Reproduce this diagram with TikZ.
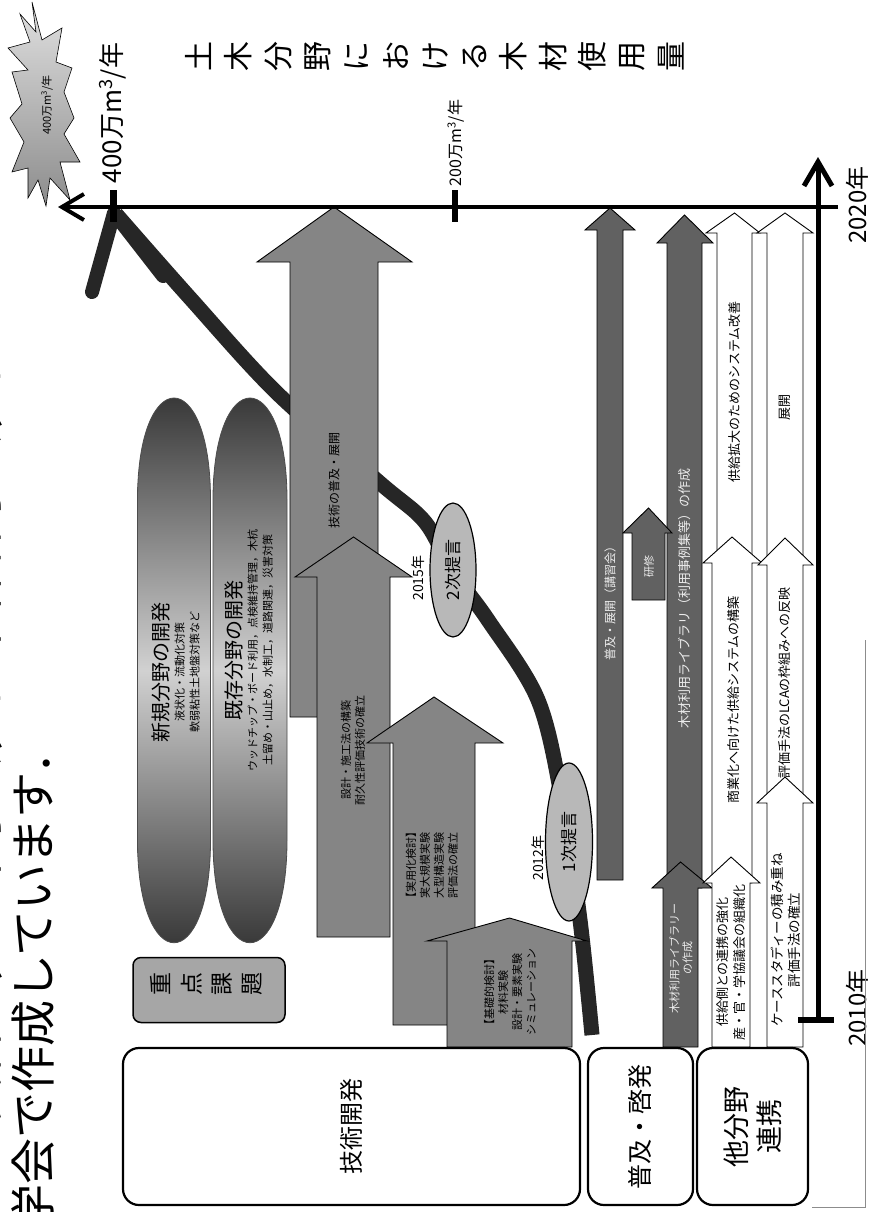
\documentclass[tikz,border=0pt]{standalone}
\usepackage{fontspec}
\setmainfont{Noto Sans CJK JP}
\usetikzlibrary{shapes.geometric,arrows.meta}
\newcommand\blkarrow[8]{%
  \path[#8] (#1,#7) -- (#1,#6) -- (#3,#6) -- ({(#1+#2)/2},#5) -- (#4,#6) -- (#2,#6) -- (#2,#7) -- cycle;}
\newcommand\tallpill[3]{%
  \path[draw=black!70,line width=0.8pt,top color=black!85,bottom color=black!85,middle color=black!18]
    (#1,500) .. controls (#1,364) and (#2,364) .. (#2,500) -- (#2,840)
    .. controls (#2,977) and (#1,977) .. (#1,840) -- cycle;}
\begin{document}
\begin{tikzpicture}[x=1pt,y=-1pt,
  fs/.style args={#1/#2}{font=\fontsize{#1}{#2}\selectfont},
  rt/.style={rotate=90,align=center,inner sep=0pt},
  onechar/.style={rotate=90,inner sep=0pt,text height=0.8em,text depth=0.1em,text width=1em,align=center},
  garrow/.style={fill=black!48,draw=black,line width=0.9pt},
  darrow/.style={fill=black!62,draw=black,line width=0.9pt},
  warrow/.style={fill=white,draw=black,line width=0.9pt},
  rbox/.style={draw=black,line width=2.2pt,rounded corners=16pt,fill=white},
  pill/.style={ellipse,draw=black,line width=1.2pt,fill=black!28,inner sep=0pt}]
\useasboundingbox (0,0) rectangle (868,1212);
\clip (0,0) rectangle (868,1212);
\fill[white] (0,0) rectangle (868,1212);

% cut-off explanatory text at the left edge
\node[rt,fs=46/50,anchor=east] (c1) at (-19,340) {この資料は，土木学会，日本森林学会，日};
\node[rt,fs=46/50,anchor=east] (c2) at (33,728) {本木材学会で作成しています．};

% starburst
\path[draw=black,line width=0.6pt,top color=black!12,bottom color=black!45]
  (32,2) -- (42,40) -- (62,28) -- (56,62) -- (72,68) -- (64,92) -- (74,118) -- (64,134)
  -- (80,162) -- (60,162) -- (70,200) -- (50,178) -- (46,206) -- (38,180) -- (28,198)
  -- (28,168) -- (12,172) -- (24,142) -- (10,118) -- (22,104) -- (12,72) -- (28,70)
  -- (8,48) -- (30,42) -- (20,14) -- (36,32) -- cycle;
\node[rt,fs=11/12] (burst) at (47,105) {400万m\textsuperscript{3}/年};

% title
\foreach \ch [count=\i] in {土,木,分,野,に,お,け,る,木,材,使,用,量}
  \node[onechar,fs=30/30] (t\i) at ({207+39.3*(\i-1)},67) {\ch};

% big curve
\draw[line width=15pt,black!85] plot[smooth,tension=0.55] coordinates
  {(592,1035) (580,920) (562,800) (538,700) (488,620) (453,572) (425,522) (380,483) (277,393) (190,298) (116,214)};
\draw[line width=14pt,black!85,line cap=round,line join=round] (92,292) -- (114,213) -- (163,276);

% technical development arrows
\blkarrow{290}{378}{257}{412}{207}{262}{717}{garrow}
\blkarrow{317}{390}{295}{412}{537}{577}{937}{garrow}
\blkarrow{393}{475}{367}{503}{697}{743}{1025}{garrow}
\blkarrow{447}{572}{427}{587}{918}{941}{1047}{garrow}
\node[rt,fs=12/14] (ta) at (334,480) {技術の普及・展開};
\node[rt,fs=11/14] (tb) at (353,750) {設計・施工法の構築\\耐久性評価技術の確立};
\node[rt,fs=11/14] (tc) at (432,865) {【実用化検討】\\実大規模実験\\大型構造実験\\評価法の確立};
\node[rt,fs=11/14] (td) at (510,992) {【基礎的検討】\\材料実験\\設計・要素実験\\シミュレーション};

% tall pills
\tallpill{137.5}{210.5}{e1}
\tallpill{213}{287}{e2}
\node[rt,fs=11/15] (e1t) at (176,672) {{\fontsize{20}{24}\selectfont 新規分野の開発}\\液状化・流動化対策\\軟弱粘性土地盤対策など};
\node[rt,fs=11/15] (e2t) at (249,650) {{\fontsize{20}{24}\selectfont 既存分野の開発}\\ウッドチップ・ボード利用，点検維持管理，木杭\\土留め・山止め，水制工，道路関連，災害対策};

% key issues box
\node[draw=black,line width=1.5pt,rounded corners=8pt,fill=black!35,minimum width=152pt,minimum height=65pt] (jb) at (209,990) {};
\foreach \ch/\xx [count=\i] in {重/166,点/197,課/227,題/257}
  \node[onechar,fs=23/23] (j\i) at (\xx,990) {\ch};

% proposals
\node[pill,minimum width=47pt,minimum height=158pt] (p1) at (569,842) {};
\node[rt,fs=17/17] (p1t) at (p1) {1次提言};
\node[pill,minimum width=46pt,minimum height=134pt] (p2) at (453,570) {};
\node[rt,fs=17/17] (p2t) at (p2) {2次提言};
\node[rt,fs=14/14] (y12) at (538,858) {2012年};
\node[rt,fs=14/14] (y15) at (418,578) {2015年};

% dissemination arrows
\blkarrow{597}{623}{585}{635}{208}{230}{880}{darrow}
\blkarrow{667}{702}{657}{713}{215}{243}{888}{darrow}
\blkarrow{663}{698}{652}{712}{862}{888}{1047}{darrow}
\blkarrow{632}{665}{623}{672}{508}{533}{600}{darrow}
\node[rt,fs=12/14,text=black!8] (te) at (610,600) {普及・展開（講習会）};
\node[rt,fs=11/12,text=black!8] (tf) at (649,566) {研修};
\node[rt,fs=13/14,text=black!8] (tg) at (685,598) {木材利用ライブラリ（利用事例集等）の作成};
\node[rt,fs=11/13,text=black!8] (th) at (681,958) {木材利用ライブラリー\\の作成};

% cooperation arrows (white)
\blkarrow{717}{752}{706}{760}{213}{233}{563}{warrow}
\blkarrow{767}{803}{757}{813}{213}{233}{565}{warrow}
\blkarrow{712}{752}{703}{762}{537}{563}{883}{warrow}
\blkarrow{767}{803}{758}{813}{538}{565}{803}{warrow}
\blkarrow{712}{750}{703}{760}{857}{883}{1047}{warrow}
\blkarrow{767}{803}{757}{813}{777}{803}{1047}{warrow}
\node[rt,fs=13/14] (ti) at (735,392) {供給拡大のためのシステム改善};
\node[rt,fs=13/14] (tk) at (785,407) {展開};
\node[rt,fs=13/14] (tj) at (734,700) {商業化へ向けた供給システムの構築};
\node[rt,fs=13/14] (tl) at (785,683) {評価手法のLCAの枠組みへの反映};
\node[rt,fs=13/17] (tm) at (731,962) {供給側との連携の強化\\産・官・学協議会の組織化};
\node[rt,fs=13.5/17] (tn) at (786,940) {ケーススタディーの積み重ね\\評価手法の確立};

% axes
\coordinate (h0) at (838,207);
\coordinate (h1) at (58,207);
\draw[line width=4pt,-{Straight Barb[length=22pt,width=26pt,line width=4pt]}] (h0) -- (h1);
\draw[line width=7pt] (113,190) -- (113,222);
\draw[line width=6pt] (455,190) -- (455,222);
\coordinate (v0) at (818,1020);
\coordinate (v1) at (818,157);
\draw[line width=5pt,-{Straight Barb[length=24pt,width=28pt,line width=5pt]}] (v0) -- (v1);
\draw[line width=6pt] (798,1020) -- (834,1020);
\node[rt,fs=26/26] (l400) at (113,113) {400万m\textsuperscript{3}/年};
\node[rt,fs=16/16] (l200) at (456,143) {200万m\textsuperscript{3}/年};
\node[rt,fs=24/24] (y2020) at (857,205) {2020年};
\node[rt,fs=24/24] (y2010) at (857,1008) {2010年};

% category boxes
\node[rbox,minimum width=457pt,minimum height=157pt] (b1) at (351.5,1126.5) {};
\node[rt,fs=24/24] (b1t) at (b1) {技術開発};
\node[rbox,minimum width=105pt,minimum height=157pt] (b2) at (640.5,1126.5) {};
\node[rt,fs=25/25] (b2t) at (b2) {普及・啓発};
\node[rbox,minimum width=111pt,minimum height=157pt] (b3) at (752.5,1126.5) {};
\node[rt,fs=27/33] (b3t) at (b3) {他分野\\連携};

% scan frame
\draw[black!45,line width=0.8pt] (865,640) -- (865,1207) -- (812,1207);
\end{tikzpicture}
\end{document}
